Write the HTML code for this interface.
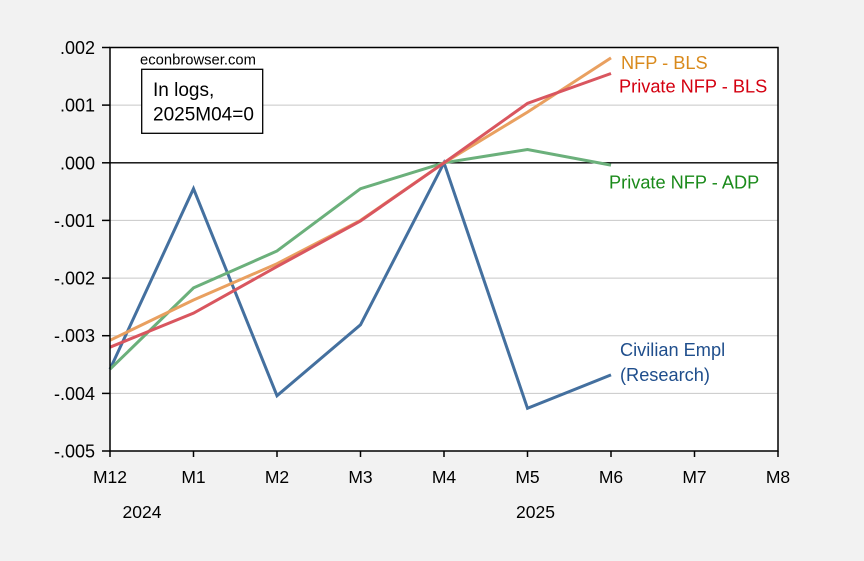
<!DOCTYPE html>
<html><head><meta charset="utf-8"><style>
html,body{margin:0;padding:0;background:#f2f2f2;}
svg{display:block;font-family:"Liberation Sans",Arial,sans-serif;}
</style></head><body>
<svg width="864" height="561" viewBox="0 0 864 561" xmlns="http://www.w3.org/2000/svg">
<rect x="0" y="0" width="864" height="561" fill="#f2f2f2"/>
<rect x="110" y="47.5" width="668" height="403.5" fill="#ffffff"/>
<!-- gridlines -->
<g stroke="#c8c8c8" stroke-width="1">
<line x1="110" y1="105.1" x2="778" y2="105.1"/>
<line x1="110" y1="220.4" x2="778" y2="220.4"/>
<line x1="110" y1="278.1" x2="778" y2="278.1"/>
<line x1="110" y1="335.7" x2="778" y2="335.7"/>
<line x1="110" y1="393.4" x2="778" y2="393.4"/>
</g>
<line x1="110" y1="162.8" x2="778" y2="162.8" stroke="#000" stroke-width="1.3"/>
<!-- series -->
<g fill="none" stroke-width="3" stroke-linejoin="miter">
<polyline stroke="#44709f" points="110,369.2 193.5,188.7 277,395.7 360.5,324.8 444,162.8 527.5,408.3 611,374.9"/>
<polyline stroke="#6bb07b" points="110,369.2 193.5,287.9 277,251 360.5,188.7 444,162.8 527.5,149.5 611,165.1"/>
<polyline stroke="#e9a060" points="110,340.3 193.5,300 277,263.7 360.5,220.4 444,162.8 527.5,112.1 611,57.9"/>
<polyline stroke="#d9565f" points="110,347.2 193.5,313.2 277,266.6 360.5,221 444,162.8 527.5,103.4 611,73.5"/>
</g>
<!-- frame -->
<rect x="110" y="47.5" width="668" height="403.5" fill="none" stroke="#000" stroke-width="1.5"/>
<!-- y ticks -->
<g stroke="#000" stroke-width="1.5">
<line x1="102" y1="47.5" x2="110" y2="47.5"/>
<line x1="102" y1="105.1" x2="110" y2="105.1"/>
<line x1="102" y1="162.8" x2="110" y2="162.8"/>
<line x1="102" y1="220.4" x2="110" y2="220.4"/>
<line x1="102" y1="278.1" x2="110" y2="278.1"/>
<line x1="102" y1="335.7" x2="110" y2="335.7"/>
<line x1="102" y1="393.4" x2="110" y2="393.4"/>
<line x1="102" y1="451" x2="110" y2="451"/>
</g>
<!-- x ticks -->
<g stroke="#000" stroke-width="1.5">
<line x1="110" y1="451" x2="110" y2="457"/>
<line x1="193.5" y1="451" x2="193.5" y2="457"/>
<line x1="277" y1="451" x2="277" y2="457"/>
<line x1="360.5" y1="451" x2="360.5" y2="457"/>
<line x1="444" y1="451" x2="444" y2="457"/>
<line x1="527.5" y1="451" x2="527.5" y2="457"/>
<line x1="611" y1="451" x2="611" y2="457"/>
<line x1="694.5" y1="451" x2="694.5" y2="457"/>
<line x1="778" y1="451" x2="778" y2="457"/>
</g>
<!-- y labels -->
<g font-size="18" fill="#000" text-anchor="end">
<text x="95" y="54">.002</text>
<text x="95" y="111.6">.001</text>
<text x="95" y="169.3">.000</text>
<text x="95" y="226.9">-.001</text>
<text x="95" y="284.6">-.002</text>
<text x="95" y="342.2">-.003</text>
<text x="95" y="399.9">-.004</text>
<text x="95" y="457.5">-.005</text>
</g>
<!-- x labels -->
<g font-size="17.5" fill="#000" text-anchor="middle">
<text x="110" y="483">M12</text>
<text x="193.5" y="483">M1</text>
<text x="277" y="483">M2</text>
<text x="360.5" y="483">M3</text>
<text x="444" y="483">M4</text>
<text x="527.5" y="483">M5</text>
<text x="611" y="483">M6</text>
<text x="694.5" y="483">M7</text>
<text x="778" y="483">M8</text>
<text x="142" y="518">2024</text>
<text x="535.5" y="518">2025</text>
</g>
<!-- annotations -->
<text x="140" y="64.5" font-size="14.8" fill="#000">econbrowser.com</text>
<rect x="141.7" y="69.3" width="121" height="64" fill="#fff" stroke="#000" stroke-width="1.3"/>
<text x="153" y="96" font-size="19" fill="#000">In logs,</text>
<text x="153" y="120.7" font-size="19" fill="#000">2025M04=0</text>
<g font-size="18.2">
<text x="621" y="69" fill="#d98a1c">NFP - BLS</text>
<text x="619" y="92.7" fill="#d40010">Private NFP - BLS</text>
<text x="609" y="188.3" fill="#1a8a1a">Private NFP - ADP</text>
<text x="620" y="356" fill="#1f4e8c">Civilian Empl</text>
<text x="620" y="381" fill="#1f4e8c">(Research)</text>
</g>
</svg>
</body></html>
